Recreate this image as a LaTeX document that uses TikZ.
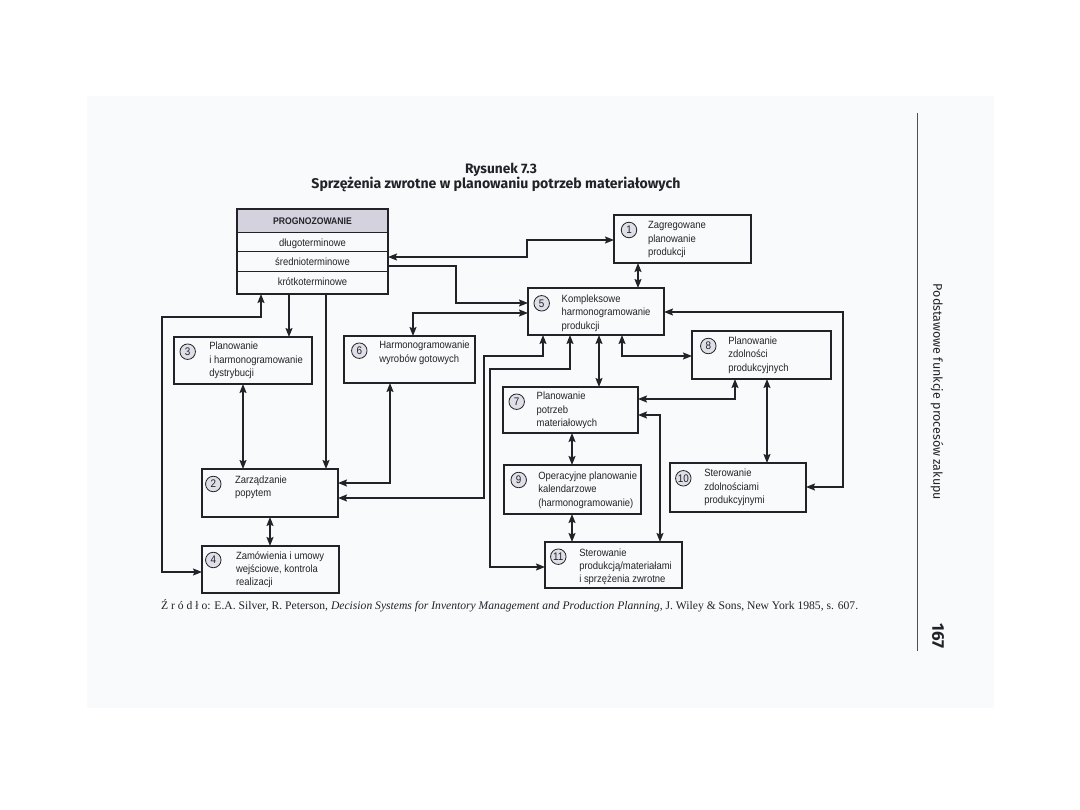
\documentclass[tikz,border=0pt]{standalone}
\usepackage{fontspec}
\usepackage{graphicx}
\setmainfont{Liberation Serif}
\newfontfamily\diag[FakeStretch=0.9]{Liberation Sans}
\newfontfamily\ttl{Fira Sans}
\usetikzlibrary{arrows.meta}
\definecolor{ink}{RGB}{34,34,40}
\definecolor{hdr}{RGB}{212,211,221}
\definecolor{numfill}{RGB}{224,223,232}
\definecolor{pagebg}{RGB}{249,250,252}
\begin{document}
\begin{tikzpicture}[x=1pt,y=-1pt,
  >={Stealth[length=9pt,width=7pt,inset=1.5pt]},
  box/.style={draw=ink,line width=1.6pt,inner sep=0pt,outer sep=0pt,rectangle},
  num/.style={circle,draw=ink,line width=0.8pt,fill=numfill,minimum size=15.5pt,inner sep=0pt,
    font=\diag\fontsize{11}{11}\selectfont,text=ink},
  txt/.style={anchor=north west,inner sep=0pt,outer sep=0pt,align=left,
    font=\diag\fontsize{10.5}{13.4}\selectfont,text=ink},
  row/.style={anchor=base,inner sep=0pt,font=\diag\fontsize{10.5}{12}\selectfont,text=ink},
  con/.style={draw=ink,line width=1.1pt},
  bi/.style={con,<->},
  uni/.style={con,->}
]
\newcommand{\fl}{\rule{0pt}{8.5pt}}
\useasboundingbox (0,0) rectangle (1080,810);
\fill[white] (0,0) rectangle (1080,810);
\fill[pagebg] (87,96) rectangle (994,708);

% title
\node[anchor=base,inner sep=0pt,text=ink] (t1) at (501,174)
  {\resizebox{72pt}{!}{\ttl\bfseries\fontsize{12}{14}\selectfont Rysunek 7.3}};
\node[anchor=base,inner sep=0pt,text=ink] (t2) at (496,189)
  {\resizebox{369pt}{!}{\ttl\bfseries\fontsize{12}{14}\selectfont Sprzężenia zwrotne w planowaniu potrzeb materiałowych}};

% PROGNOZOWANIE table
\fill[hdr] (237,209) rectangle (388,233);
\draw[ink,line width=1pt] (237,233) -- (388,233) (237,252) -- (388,252) (237,272) -- (388,272);
\node[box,minimum width=151pt,minimum height=85pt] (prog) at (312.5,251.5) {};
\node[row,font=\diag\bfseries\fontsize{9.6}{12}\selectfont] (pr0) at (312.5,224.5) {PROGNOZOWANIE};
\node[row] (pr1) at (312.5,246.5) {długoterminowe};
\node[row] (pr2) at (312.5,266) {średnioterminowe};
\node[row] (pr3) at (312.5,286) {krótkoterminowe};

% boxes
\node[box,minimum width=137pt,minimum height=48pt] (n1) at (682.5,239) {};
\node[box,minimum width=136pt,minimum height=47pt] (n5) at (596,311.5) {};
\node[box,minimum width=138pt,minimum height=47pt] (n3) at (243,360.5) {};
\node[box,minimum width=131pt,minimum height=47pt] (n6) at (409.5,359.5) {};
\node[box,minimum width=139pt,minimum height=48pt] (n8) at (761.5,355) {};
\node[box,minimum width=135pt,minimum height=46pt] (n7) at (570.5,410) {};
\node[box,minimum width=136pt,minimum height=48pt] (n2) at (270,493) {};
\node[box,minimum width=137pt,minimum height=49pt] (n9) at (572.5,489.5) {};
\node[box,minimum width=136pt,minimum height=49pt] (n10) at (738,487.5) {};
\node[box,minimum width=137pt,minimum height=47pt] (n4) at (270.5,569.5) {};
\node[box,minimum width=137pt,minimum height=46pt] (n11) at (613.5,565) {};

% numbers
\node[num] (c1) at (629,230) {1};
\node[num] (c5) at (541.7,303.3) {5};
\node[num] (c3) at (187.7,351.7) {3};
\node[num] (c6) at (359.3,350.7) {6};
\node[num] (c8) at (708.3,346) {8};
\node[num] (c7) at (516.7,401.7) {7};
\node[num] (c9) at (518.7,480) {9};
\node[num] (c10) at (683.3,478.3) {10};
\node[num] (c11) at (558.3,556.7) {11};
\node[num] (c2) at (213.3,484) {2};
\node[num] (c4) at (213.3,560) {4};

% texts (first baseline - 8.5)
\node[txt] (x1) at (648,220.5) {\fl Zagregowane\\planowanie\\produkcji};
\node[txt] (x5) at (561.7,294) {\fl Kompleksowe\\harmonogramowanie\\produkcji};
\node[txt] (x3) at (209.3,341.5) {\fl Planowanie\\i harmonogramowanie\\dystrybucji};
\node[txt] (x6) at (379.3,340.5) {\fl Harmonogramowanie\\wyrobów gotowych};
\node[txt] (x8) at (728.3,336) {\fl Planowanie\\zdolności\\produkcyjnych};
\node[txt] (x7) at (536.7,391.5) {\fl Planowanie\\potrzeb\\materiałowych};
\node[txt] (x9) at (538.3,471) {\fl Operacyjne planowanie\\kalendarzowe\\(harmonogramowanie)};
\node[txt] (x10) at (704.3,468.5) {\fl Sterowanie\\zdolnościami\\produkcyjnymi};
\node[txt] (x11) at (579.3,547.5) {\fl Sterowanie\\produkcją/materiałami\\i sprzężenia zwrotne};
\node[txt] (x2) at (235,474.5) {\fl Zarządzanie\\popytem};
\node[txt] (x4) at (236,550.5) {\fl Zamówienia i umowy\\wejściowe, kontrola\\realizacji};

% connectors
\draw[bi] (prog.east |- 0,257) -- (527,257) -- (527,240) -- (n1.west |- 0,240);
\draw[uni] (prog.east |- 0,266) -- (456,266) -- (456,303) -- (n5.west |- 0,303);
\draw[bi] (n5.west |- 0,313) -- (413,313) -- (n6.north -| 413,0);
\draw[bi] (n1.south -| 638,0) -- (n5.north -| 638,0);
\draw[bi] (n5.east |- 0,312) -- (843,312) -- (843,487) -- (n10.east |- 0,487);
\draw[bi] (n5.south -| 622,0) -- (622,356) -- (n8.west |- 0,356);
\draw[bi] (n5.south -| 543,0) -- (543,356) -- (484,356) -- (484,498) -- (n2.east |- 0,498);
\draw[bi] (n5.south -| 570,0) -- (570,369) -- (490,369) -- (490,567) -- (n11.west |- 0,567);
\draw[bi] (n5.south -| 599,0) -- (n7.north -| 599,0);
\draw[bi] (n7.east |- 0,399) -- (735,399) -- (n8.south -| 735,0);
\draw[bi] (n8.south -| 767,0) -- (n10.north -| 767,0);
\draw[bi] (n7.east |- 0,415) -- (660,415) -- (n11.north -| 660,0);
\draw[bi] (n7.south -| 572,0) -- (n9.north -| 572,0);
\draw[bi] (n9.south -| 572,0) -- (n11.north -| 572,0);
\draw[uni] (prog.south -| 289,0) -- (n3.north -| 289,0);
\draw[uni] (prog.south -| 326,0) -- (n2.north -| 326,0);
\draw[bi] (prog.south -| 261,0) -- (261,317) -- (162,317) -- (162,572) -- (n4.west |- 0,572);
\draw[bi] (n3.south -| 243,0) -- (n2.north -| 243,0);
\draw[bi] (n2.south -| 270,0) -- (n4.north -| 270,0);
\draw[bi] (n6.south -| 390,0) -- (390,483) -- (n2.east |- 0,483);

% source
\node[anchor=base west,inner sep=0pt,text=ink] (src) at (161,609)
  {\resizebox{697pt}{!}{\fontsize{10.5}{12}\selectfont Ź r ó d ł o: E.A. Silver, R. Peterson, \textit{Decision Systems for Inventory Management and Production Planning}, J. Wiley \& Sons, New York 1985, s. 607.}};

% page margin
\draw[ink!80,line width=0.8pt] (917,113) coordinate (r1) -- (917,651) coordinate (r2);
\node[rotate=-90,inner sep=0pt,text=ink] (side) at (937,392)
  {\resizebox{216pt}{!}{\ttl\fontsize{11}{13}\selectfont Podstawowe funkcje procesów zakupu}};
\node[rotate=-90,inner sep=0pt,text=ink,font=\ttl\bfseries\fontsize{17}{19}\selectfont] (pg) at (938,636) {167};
\end{tikzpicture}
\end{document}
